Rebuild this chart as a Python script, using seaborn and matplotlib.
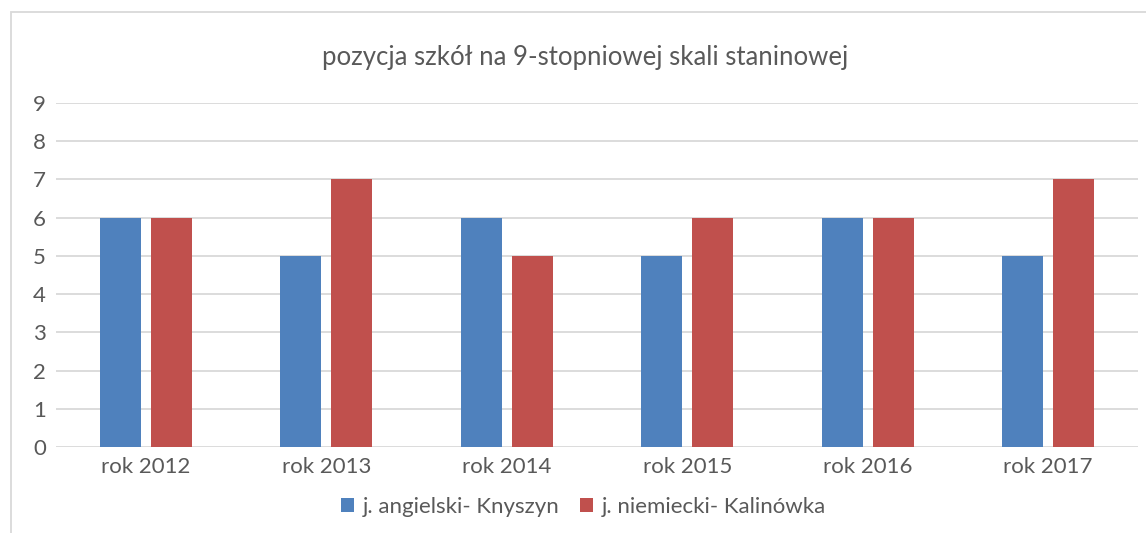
import pandas as pd
import matplotlib.pyplot as plt
import seaborn as sns
from matplotlib.patches import Rectangle

years = ['rok 2012', 'rok 2013', 'rok 2014', 'rok 2015', 'rok 2016', 'rok 2017']
angielski = [6, 5, 6, 5, 6, 5]
niemiecki = [6, 7, 5, 6, 6, 7]
series_names = ['j. angielski- Knyszyn', 'j. niemiecki- Kalinówka']
colors = ['#4F81BD', '#C0504D']

df = pd.DataFrame({
    'rok': years * 2,
    'wartosc': angielski + niemiecki,
    'seria': [series_names[0]] * len(years) + [series_names[1]] * len(years),
})

sns.set_style('white')
plt.rcParams['font.family'] = ['Lato', 'DejaVu Sans']
text_color = '#595959'
grid_color = '#D9D9D9'

fig = plt.figure(figsize=(11.46, 5.33), dpi=100)
ax = fig.add_axes([0.0487, 0.1614, 0.9445, 0.6454])

sns.barplot(data=df, x='rok', y='wartosc', hue='seria', palette=colors,
            width=0.565, gap=0.196, saturation=1, linewidth=0,
            ax=ax, legend=True)

ax.set_ylim(0, 9)
ax.set_xlim(-0.5, len(years) - 0.5)
ax.set_yticks(range(0, 10))
ax.yaxis.grid(True, color=grid_color, linewidth=1.3)
ax.set_axisbelow(True)
for s in ax.spines.values():
    s.set_visible(False)
ax.set_xlabel('')
ax.set_ylabel('')
ax.tick_params(axis='both', length=0, labelsize=16, labelcolor=text_color)
ax.tick_params(axis='x', pad=7)
ax.tick_params(axis='y', pad=7)

fig.text(0.511, 0.892, 'pozycja szkół na 9-stopniowej skali staninowej',
         ha='center', va='center', fontsize=18.5, color=text_color)

handles, labels = ax.get_legend_handles_labels()
ax.legend(handles, labels, loc='center', bbox_to_anchor=(0.509, 0.049),
          bbox_transform=fig.transFigure, ncol=2, frameon=False,
          fontsize=16, labelcolor=text_color, handlelength=0.6,
          handleheight=0.6, handletextpad=0.4, columnspacing=0.9)

fig.patches.append(Rectangle((11 / 1146, -0.1), 1.2, 1.1 - 12 / 533,
                             transform=fig.transFigure, fill=False,
                             edgecolor=grid_color, linewidth=1.3))

fig.savefig('out.png', dpi=100)
